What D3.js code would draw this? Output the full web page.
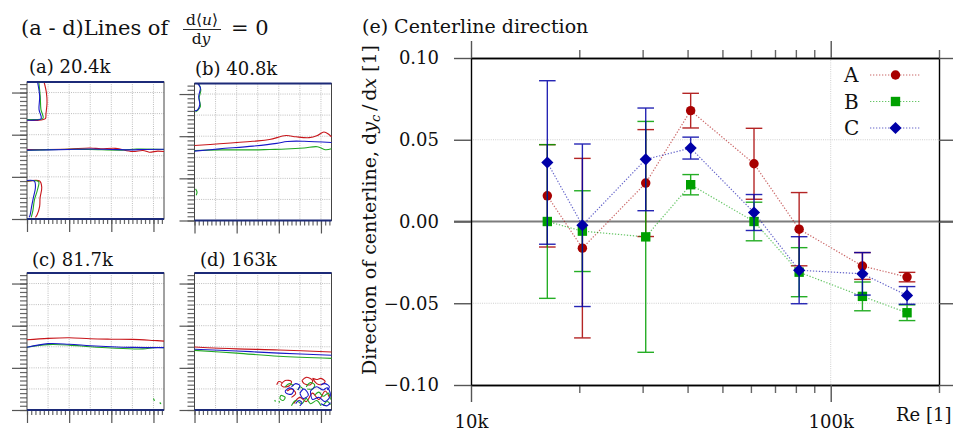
<!DOCTYPE html>
<html>
<head>
<meta charset="utf-8">
<script src="https://cdn.jsdelivr.net/npm/d3@7"></script>
<style>
  body { margin: 0; background: #fff; }
  text { font-family: "DejaVu Serif", "Liberation Serif", serif; fill: #111; }
</style>
</head>
<body>
<svg id="chart" width="957" height="432"></svg>
<script>
// (e) Centerline direction data
// ==============================
var reynolds = [16300, 20400, 30600, 40800, 61200, 81700, 122500, 163000];
var seriesNames = ["A", "B", "C"];
var valuesA = [0.0157, -0.0163, 0.0235, 0.0678, 0.0353, -0.0047, -0.0272, -0.0340];
var errorsA = [0.0313, 0.0549, 0.0327, 0.0106, 0.0217, 0.0224, 0.0082, 0.0029];
var valuesB = [0.0000, -0.0059, -0.0094, 0.0225, 0.0000, -0.0310, -0.0458, -0.0558];
var errorsB = [0.0470, 0.0247, 0.0706, 0.0062, 0.0118, 0.0150, 0.0088, 0.0048];
var valuesC = [0.0361, -0.0023, 0.0380, 0.0449, 0.0055, -0.0298, -0.0320, -0.0452];
var errorsC = [0.0500, 0.0497, 0.0314, 0.0067, 0.0110, 0.0205, 0.0130, 0.0054];
var yTicks = [-0.1, -0.05, 0, 0.05, 0.1];
var xMajor = [10000, 100000];
var xMinor = [20000, 30000, 40000, 50000, 60000, 70000, 80000, 90000, 200000];

// (a - d) contour lines, panel units 0..6.5
// ==============================
var panelTitles = ["(a) 20.4k", "(b) 40.8k", "(c) 81.7k", "(d) 163k"];
var contoursA = [
  ["A", [[0.81,6.5],[0.92,6.0],[0.95,5.5],[0.9,5.0],[0.87,4.76],[0.5,4.68],[0,4.7]]],
  ["B", [[0.56,6.5],[0.63,5.8],[0.66,5.2],[0.76,4.78],[0.4,4.72],[0,4.72]]],
  ["C", [[0.5,6.5],[0.6,5.83],[0.57,5.2],[0.67,4.76],[0.32,4.69],[0,4.69]]],
  ["A", [[0,3.3],[1,3.3],[2,3.32],[3,3.37],[3.5,3.33],[4.2,3.35],[5,3.2],[5.5,3.25],[5.8,3.17],[6.2,3.22],[6.5,3.2]]],
  ["B", [[0,3.25],[1,3.29],[2,3.31],[3,3.3],[4.5,3.27],[5.2,3.32],[6.5,3.3]]],
  ["C", [[0,3.27],[1,3.28],[2,3.3],[3,3.32],[4,3.3],[5,3.28],[5.5,3.3],[6.5,3.31]]],
  ["A", [[0,1.78],[0.6,1.8],[0.7,1.5],[0.62,1.0],[0.6,0.6],[0.48,0.2],[0.4,0.08]]],
  ["B", [[0,1.8],[0.55,1.77],[0.5,1.4],[0.35,0.9],[0.28,0.4],[0.2,0.08]]],
  ["C", [[0,1.83],[0.35,1.8],[0.4,1.5],[0.3,1.0],[0.22,0.6],[0.15,0.2],[0.1,0.08]]]
];
var contoursB = [
  ["A", [[0,3.56],[1.2,3.64],[2.77,3.76],[3.56,3.84],[4.34,4.03],[4.81,3.97],[5.44,3.93],[5.83,4.03],[6.14,4.2],[6.38,4.08],[6.5,3.97]]],
  ["B", [[0,3.32],[1.2,3.35],[2.77,3.35],[3.56,3.37],[4.34,3.39],[5.2,3.44],[5.83,3.5],[6.2,3.36],[6.5,3.4]]],
  ["C", [[0,3.29],[1.2,3.4],[2.77,3.53],[3.9,3.66],[4.4,3.75],[5.2,3.76],[6.5,3.7]]],
  ["B", [[0.2,6.5],[0.3,6.2],[0.22,5.8],[0.28,5.4],[0.12,5.2],[0.05,5.15]]],
  ["C", [[0.15,6.5],[0.28,6.3],[0.2,5.9],[0.25,5.5],[0.15,5.25],[0.02,5.2]]],
  ["B", [[0.05,1.5],[0.12,1.35],[0.08,1.2]]]
];
var contoursC = [
  ["A", [[0,3.33],[1,3.4],[2,3.43],[3,3.38],[4,3.36],[5,3.35],[6,3.3],[6.5,3.27]]],
  ["B", [[0,2.98],[1,3.1],[2,3.08],[3,3.0],[4,2.94],[5.5,2.9],[6,2.96],[6.5,2.96]]],
  ["C", [[0,2.98],[1,3.15],[2,3.12],[3,3.05],[4,3.0],[5,2.97],[6.5,2.96]]],
  ["B", [[6.0,0.55],[6.05,0.45],[6.0,0.5]]],
  ["B", [[6.3,0.36],[6.35,0.3],[6.3,0.33]]]
];
var contoursD = [
  ["A", [[0,2.99],[2,2.9],[4,2.85],[6.5,2.75]]],
  ["C", [[0,2.88],[2,2.8],[4,2.7],[6.5,2.6]]],
  ["B", [[0,2.83],[2,2.7],[4,2.55],[6.5,2.45]]],
  ["A", [[4.1,1.2],[4.3,1.4],[4.6,1.35],[4.5,1.15],[4.2,1.1],[4.1,1.2]]],
  ["A", [[5.1,1.4],[5.3,1.55],[5.6,1.4],[5.5,1.2],[5.2,1.25],[5.1,1.4]]],
  ["A", [[4.7,0.3],[5.0,0.6],[5.3,0.4],[5.6,0.8],[5.9,0.5],[6.2,0.9],[6.4,0.6]]],
  ["A", [[4.4,0.9],[4.6,1.0],[4.8,0.8],[4.6,0.6]]],
  ["A", [[5.6,1.5],[5.8,1.45],[6.0,1.5],[6.2,1.35],[6.0,1.2],[5.8,1.25],[5.6,1.5]]],
  ["A", [[3.9,1.2],[4.0,1.35],[4.15,1.3]]],
  ["B", [[4.6,0.2],[4.8,0.45],[5.1,0.3],[5.3,0.55],[5.5,0.3],[5.8,0.45],[6.0,0.2]]],
  ["B", [[4.1,0.7],[4.3,0.6],[4.2,0.45],[4.05,0.55],[4.1,0.7]]],
  ["B", [[5.7,0.7],[5.9,0.85],[6.1,0.65],[6.35,0.8],[6.45,0.5]]],
  ["B", [[4.9,0.95],[5.0,1.1],[5.15,1.0]]],
  ["B", [[4.3,1.1],[4.5,1.25],[4.7,1.15]]],
  ["B", [[5.3,1.1],[5.5,1.3],[5.7,1.2],[5.6,1.0],[5.35,1.0]]],
  ["B", [[6.1,0.2],[6.3,0.4],[6.45,0.25]]],
  ["B", [[3.8,0.47],[3.84,0.42],[3.8,0.44]]],
  ["B", [[4.0,0.42],[4.04,0.37],[4.0,0.39]]],
  ["C", [[4.3,0.9],[4.5,1.05],[4.7,0.95],[4.6,0.75],[4.35,0.8],[4.3,0.9]]],
  ["C", [[5.5,0.9],[5.8,1.1],[6.1,0.95],[6.3,1.05],[6.45,0.7],[6.2,0.4],[5.9,0.6],[5.6,0.5],[5.5,0.9]]],
  ["C", [[5.0,0.8],[5.2,1.0],[5.4,0.7],[5.15,0.55],[5.0,0.8]]],
  ["C", [[6.0,0.3],[6.3,0.2],[6.45,0.35]]],
  ["C", [[4.6,1.1],[4.8,1.25],[5.0,1.15],[4.9,0.95]]],
  ["C", [[4.8,0.3],[4.95,0.45],[5.1,0.35],[5.0,0.2]]],
  ["C", [[6.0,1.2],[6.2,1.25],[6.4,1.1],[6.3,0.95]]]
];

var seriesColors = ["#a80000", "#00a000", "#0000a8"];
var contourColors = { A: "#c8161b", B: "#22a822", C: "#1818c8" };

var svg = d3.select("#chart");

// (e) Main chart
// ==============================
var plot = { left: 471, right: 939, top: 58, bottom: 385 };
var x = d3.scaleLog().domain([10000, 200000]).range([plot.left, plot.right]);
var y = d3.scaleLinear().domain([-0.1, 0.1]).range([plot.bottom, plot.top]);

var main = svg.append("g");

// gridlines
main.selectAll("line.hgrid")
  .data([-0.05, 0.05])
  .join("line")
  .attr("x1", plot.left).attr("x2", plot.right)
  .attr("y1", d => y(d)).attr("y2", d => y(d))
  .attr("stroke", "#cfcfcf").attr("stroke-dasharray", "1,1.2");
main.append("line")
  .attr("x1", x(100000)).attr("x2", x(100000))
  .attr("y1", plot.top).attr("y2", plot.bottom)
  .attr("stroke", "#cfcfcf").attr("stroke-dasharray", "1,1.2");

// zero line
main.append("line")
  .attr("x1", plot.left - 17).attr("x2", plot.right + 14)
  .attr("y1", y(0)).attr("y2", y(0))
  .attr("stroke", "#7c7c7c").attr("stroke-width", 2);

function styleAxis(g, tickColor) {
  g.attr("font-family", null).attr("font-size", null);
  g.select("path.domain").attr("stroke", "#000").attr("stroke-width", 1.4);
  g.selectAll(".tick line").attr("stroke", tickColor).attr("stroke-width", 1.4);
  g.selectAll(".tick text").style("font-size", "18px").attr("fill", "#111");
}

main.append("g")
  .attr("transform", `translate(0, ${plot.bottom})`)
  .call(d3.axisBottom(x).tickValues(xMinor).tickSize(8).tickSizeOuter(0).tickFormat(""))
  .call(g => styleAxis(g, "#666"));
main.append("g")
  .attr("transform", `translate(0, ${plot.bottom})`)
  .call(d3.axisBottom(x).tickValues(xMajor).tickSize(17).tickSizeOuter(0).tickPadding(13)
    .tickFormat(d3.format("~s")))
  .call(g => styleAxis(g, "#555"));
main.append("g")
  .attr("transform", `translate(0, ${plot.top})`)
  .call(d3.axisTop(x).tickValues(xMinor).tickSize(8).tickSizeOuter(0).tickFormat(""))
  .call(g => styleAxis(g, "#666"));
main.append("g")
  .attr("transform", `translate(0, ${plot.top})`)
  .call(d3.axisTop(x).tickValues(xMajor).tickSize(17).tickSizeOuter(0).tickFormat(""))
  .call(g => styleAxis(g, "#555"));
main.append("g")
  .attr("transform", `translate(${plot.left}, 0)`)
  .call(d3.axisLeft(y).tickValues(yTicks).tickSize(17).tickSizeOuter(0).tickPadding(15)
    .tickFormat(d3.format(".2f")))
  .call(g => styleAxis(g, "#555"));
main.append("g")
  .attr("transform", `translate(${plot.right}, 0)`)
  .call(d3.axisRight(y).tickValues(yTicks).tickSize(14).tickSizeOuter(0).tickFormat(""))
  .call(g => styleAxis(g, "#555"));

// series
var symbols = [
  d3.symbol(d3.symbolCircle, 70),
  d3.symbol(d3.symbolSquare, 88),
  d3.symbol(d3.symbolSquare, 74)
];
var symbolRotate = [0, 0, 45];
var allValues = [valuesA, valuesB, valuesC];
var allErrors = [errorsA, errorsB, errorsC];

var line = d3.line().x(d => x(d.re)).y(d => y(d.v));

seriesNames.forEach(function(name, i) {
  var pts = reynolds.map((re, j) => ({ re: re, v: allValues[i][j], e: allErrors[i][j] }));
  var color = seriesColors[i];
  var g = main.append("g");

  g.append("path")
    .datum(pts)
    .attr("d", line)
    .attr("fill", "none")
    .attr("stroke", color).attr("stroke-opacity", 0.6)
    .attr("stroke-width", 1.2).attr("stroke-dasharray", "1.3,1.7");

  var bars = g.selectAll("g.err").data(pts).join("g").attr("opacity", 0.85);
  bars.append("line")
    .attr("x1", d => x(d.re)).attr("x2", d => x(d.re))
    .attr("y1", d => y(d.v + d.e)).attr("y2", d => y(d.v - d.e))
    .attr("stroke", color).attr("stroke-width", 1.4);
  [1, -1].forEach(function(s) {
    bars.append("line")
      .attr("x1", d => x(d.re) - 8.3).attr("x2", d => x(d.re) + 8.3)
      .attr("y1", d => y(d.v + s * d.e)).attr("y2", d => y(d.v + s * d.e))
      .attr("stroke", color).attr("stroke-width", 1.4);
  });

  g.selectAll("path.mark").data(pts).join("path")
    .attr("class", "mark")
    .attr("d", symbols[i])
    .attr("transform", d => `translate(${x(d.re)}, ${y(d.v)}) rotate(${symbolRotate[i]})`)
    .attr("fill", color);
});

// legend
var legend = main.append("g").attr("transform", "translate(844, 75)");
seriesNames.forEach(function(name, i) {
  var row = legend.append("g").attr("transform", `translate(0, ${i * 26.5})`);
  row.append("text").attr("x", 0).attr("y", 7).style("font-size", "20px").text(name);
  row.append("line")
    .attr("x1", 26).attr("x2", 77).attr("y1", 0).attr("y2", 0)
    .attr("stroke", seriesColors[i]).attr("stroke-opacity", 0.6)
    .attr("stroke-width", 1.2).attr("stroke-dasharray", "1.3,1.7");
  row.append("path")
    .attr("d", symbols[i])
    .attr("transform", `translate(51.5, 0) rotate(${symbolRotate[i]})`)
    .attr("fill", seriesColors[i]);
});

// titles and axis labels
svg.append("text").attr("x", 362).attr("y", 33).style("font-size", "19px").text("(e) Centerline direction");
svg.append("text").attr("x", 896).attr("y", 421).style("font-size", "18px").text("Re [1]");

var yLabel = svg.append("text")
  .attr("transform", "translate(376, 375) rotate(-90)")
  .style("font-size", "19px");
yLabel.append("tspan").text("Direction of centerline, d");
yLabel.append("tspan").style("font-style", "italic").text("y");
yLabel.append("tspan").style("font-style", "italic").style("font-size", "13px").attr("dy", "4px").text("c");
yLabel.append("tspan").attr("dy", "-4px").text("\u2009/\u2009d");
yLabel.append("tspan").style("font-style", "italic").text("x");
yLabel.append("tspan").text(" [1]");

// (a - d) header
// ==============================
svg.append("text").attr("x", 21).attr("y", 35).style("font-size", "21px").text("(a - d)Lines of");
var num = svg.append("text").attr("x", 202).attr("y", 25).attr("text-anchor", "middle").style("font-size", "15.5px");
num.append("tspan").text("d\u27E8");
num.append("tspan").style("font-style", "italic").text("u");
num.append("tspan").text("\u27E9");
svg.append("line").attr("x1", 183).attr("x2", 221).attr("y1", 29.5).attr("y2", 29.5)
  .attr("stroke", "#111").attr("stroke-width", 0.9);
var den = svg.append("text").attr("x", 201).attr("y", 44).attr("text-anchor", "middle").style("font-size", "15.5px");
den.append("tspan").text("d");
den.append("tspan").style("font-style", "italic").text("y");
svg.append("text").attr("x", 231).attr("y", 35).style("font-size", "21px").text("= 0");

// (a - d) panels
// ==============================
var panelSize = 137;
var panelPos = [[27, 82], [194.5, 83.5], [27, 273], [194.5, 273]];
var titlePos = [[29, 73], [195, 75], [32, 266], [200, 266]];
var panelContours = [contoursA, contoursB, contoursC, contoursD];

var xs = d3.scaleLinear().domain([0, 6.5]).range([0, panelSize]);
var ys = d3.scaleLinear().domain([0, 6.5]).range([panelSize, 0]);
var contourLine = d3.line().x(d => xs(d[0])).y(d => ys(d[1])).curve(d3.curveCatmullRom);
var gridVals = [1, 2, 3, 4, 5, 6];
var minorVals = d3.range(0, 6.51, 0.2);

panelTitles.forEach(function(title, p) {
  svg.append("text").attr("x", titlePos[p][0]).attr("y", titlePos[p][1])
    .style("font-size", "18px").text(title);

  var pg = svg.append("g").attr("transform", `translate(${panelPos[p][0]}, ${panelPos[p][1]})`);

  pg.selectAll("line.vg").data(gridVals).join("line")
    .attr("x1", d => xs(d)).attr("x2", d => xs(d)).attr("y1", 0).attr("y2", panelSize)
    .attr("stroke", "#bdbdbd").attr("stroke-dasharray", "1,1.2");
  pg.selectAll("line.hg").data(gridVals).join("line")
    .attr("x1", 0).attr("x2", panelSize).attr("y1", d => ys(d)).attr("y2", d => ys(d))
    .attr("stroke", "#bdbdbd").attr("stroke-dasharray", "1,1.2");

  pg.append("g").call(d3.axisLeft(ys).tickValues(minorVals).tickSize(7).tickSizeOuter(0).tickFormat(""))
    .call(g => { g.select(".domain").remove(); g.selectAll("line").attr("stroke", "#666").attr("stroke-width", 1.2); });
  pg.append("g").call(d3.axisLeft(ys).tickValues([0, 2, 4, 6]).tickSize(15).tickSizeOuter(0).tickFormat(""))
    .call(g => { g.select(".domain").remove(); g.selectAll("line").attr("stroke", "#555").attr("stroke-width", 1.2); });
  pg.append("g").attr("transform", `translate(0, ${panelSize})`)
    .call(d3.axisBottom(xs).tickValues(minorVals).tickSize(5).tickSizeOuter(0).tickFormat(""))
    .call(g => { g.select(".domain").remove(); g.selectAll("line").attr("stroke", "#666").attr("stroke-width", 1.2); });
  pg.append("g").attr("transform", `translate(0, ${panelSize})`)
    .call(d3.axisBottom(xs).tickValues([0, 2, 4, 6]).tickSize(13).tickSizeOuter(0).tickFormat(""))
    .call(g => { g.select(".domain").remove(); g.selectAll("line").attr("stroke", "#555").attr("stroke-width", 1.2); });

  pg.append("rect").attr("width", panelSize).attr("height", panelSize)
    .attr("fill", "none").attr("stroke", "#444").attr("stroke-width", 1);

  pg.selectAll("path.contour").data(panelContours[p]).join("path")
    .attr("class", "contour")
    .attr("d", d => contourLine(d[1]))
    .attr("fill", "none")
    .attr("stroke", d => contourColors[d[0]])
    .attr("stroke-width", 1.1);

  // wall lines at top and bottom
  pg.selectAll("line.wall").data([0, 6.5]).join("line")
    .attr("x1", 0).attr("x2", panelSize).attr("y1", d => ys(d)).attr("y2", d => ys(d))
    .attr("stroke", "#1c2a78").attr("stroke-width", 2.2);
});
</script>
</body>
</html>
